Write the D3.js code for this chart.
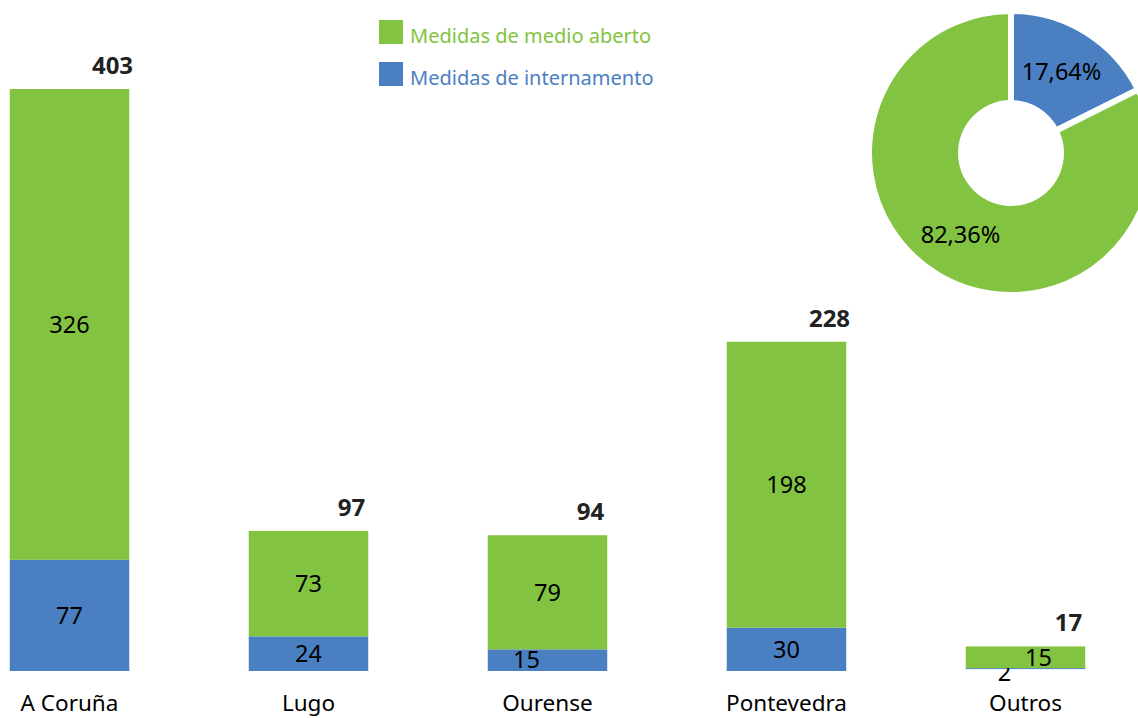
<!DOCTYPE html>
<html lang="gl">
<head>
<meta charset="utf-8">
<style>
  body { margin: 0; background: #fff; }
  svg { display: block; font-family: "Noto Sans", "Open Sans", sans-serif; }
</style>
</head>
<body>
<svg width="1138" height="718"></svg>
<script src="https://d3js.org/d3.v7.min.js"></script>
<script>
// data
var categories = ["A Coruña", "Lugo", "Ourense", "Pontevedra", "Outros"];
var aberto = [326, 73, 79, 198, 15];
var internamento = [77, 24, 15, 30, 2];
var seriesNames = ["Medidas de medio aberto", "Medidas de internamento"];

var green = "#82c341", blue = "#4a80c2";

var svg = d3.select("svg");

var rows = categories.map(function (c, i) {
    return { cat: c, aberto: aberto[i], internamento: internamento[i], total: aberto[i] + internamento[i] };
});

var x = d3.scaleBand()
    .domain(categories)
    .range([-50, 1145])
    .paddingInner(0.5)
    .paddingOuter(0.25);

var y = d3.scaleLinear()
    .domain([0, 403])
    .range([671, 89]);

var stack = d3.stack().keys(["internamento", "aberto"]);
var layers = stack(rows);
var colors = { internamento: blue, aberto: green };

var g = svg.append("g");

layers.forEach(function (layer) {
    g.selectAll(".bar-" + layer.key)
        .data(layer)
        .enter()
        .append("rect")
        .attr("x", function (d) { return x(d.data.cat); })
        .attr("width", x.bandwidth())
        .attr("y", function (d) { return y(d[1]); })
        .attr("height", function (d) { return Math.max(1, y(d[0]) - y(d[1]) - (y(d[0]) - y(d[1]) < 5 ? 2 : 0)); })
        .attr("fill", colors[layer.key]);

    g.selectAll(".lab-" + layer.key)
        .data(layer)
        .enter()
        .append("text")
        .attr("text-anchor", "middle")
        .attr("font-size", 23.5)
        .attr("fill", "#000")
        .attr("dy", "0.35em")
        .attr("x", function (d) {
            var cx = x(d.data.cat) + x.bandwidth() / 2;
            var h = y(d[0]) - y(d[1]);
            // small segments: labels get pushed apart like in the original
            if (h < 30) return cx + (layer.key == "aberto" ? 13 : -21);
            return cx;
        })
        .attr("y", function (d) {
            var h = y(d[0]) - y(d[1]);
            if (h < 5) return y(d[0]) + 2;
            return (y(d[0]) + y(d[1])) / 2;
        })
        .text(function (d) { return d.data[layer.key]; });
});

// totals
g.selectAll(".total")
    .data(rows)
    .enter()
    .append("text")
    .attr("text-anchor", "middle")
    .attr("font-size", 24)
    .attr("font-weight", "bold")
    .attr("fill", "#222")
    .attr("x", function (d) { return x(d.cat) + x.bandwidth() / 2 + 43; })
    .attr("y", function (d) { return y(d.total) - 15; })
    .text(function (d) { return d.total; });

// category labels
g.selectAll(".cat")
    .data(categories)
    .enter()
    .append("text")
    .attr("text-anchor", "middle")
    .attr("font-size", 22.5)
    .attr("fill", "#000")
    .attr("x", function (d) { return x(d) + x.bandwidth() / 2; })
    .attr("y", 711)
    .text(function (d) { return d; });

// legend
var legend = svg.append("g").attr("transform", "translate(379,20)");
[green, blue].forEach(function (c, i) {
    legend.append("rect")
        .attr("x", 0).attr("y", i * 42)
        .attr("width", 24).attr("height", 24)
        .attr("fill", c);
    legend.append("text")
        .attr("x", 31).attr("y", i * 42 + 23)
        .attr("font-size", 20)
        .attr("fill", c)
        .text(seriesNames[i]);
});

// donut
var totals = [d3.sum(internamento), d3.sum(aberto)];
var grand = d3.sum(totals);
var pie = d3.pie().sort(null);
var arcs = pie(totals);
var arc = d3.arc().innerRadius(50).outerRadius(142);
var labelArc = d3.arc().innerRadius(53).outerRadius(139);
var fmt = function (v) { return (v * 100 / grand).toFixed(2).replace(".", ",") + "%"; };

var donut = svg.append("g").attr("transform", "translate(1011,153)");
donut.selectAll("path")
    .data(arcs)
    .enter()
    .append("path")
    .attr("d", arc)
    .attr("fill", function (d, i) { return i == 0 ? blue : green; })
    .attr("stroke", "#fff")
    .attr("stroke-width", 6);

donut.selectAll(".plab")
    .data(arcs)
    .enter()
    .append("text")
    .attr("text-anchor", "middle")
    .attr("dy", "0.35em")
    .attr("font-size", 23.5)
    .attr("fill", "#000")
    .attr("transform", function (d) { return "translate(" + labelArc.centroid(d) + ")"; })
    .text(function (d) { return fmt(d.value); });
</script>
</body>
</html>
